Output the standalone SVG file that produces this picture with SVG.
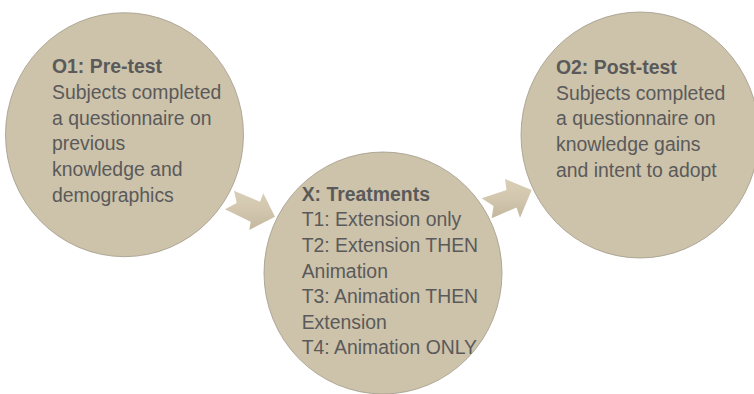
<svg xmlns="http://www.w3.org/2000/svg" width="754" height="394" viewBox="0 0 754 394">
<defs>
<linearGradient id="ag" x1="0" y1="0" x2="0" y2="1">
<stop offset="0" stop-color="#D9CEB7"/>
<stop offset="0.5" stop-color="#D2C6AE"/>
<stop offset="1" stop-color="#C3B79E"/>
</linearGradient>
<style>
.c{fill:#CDC2AA;stroke:#A19A8A;stroke-width:0.8}
.a{fill:url(#ag)}
text{font-family:"Liberation Sans",Arial,sans-serif;font-size:19.4px;fill:#5A5A5A}
.b{font-weight:bold}
</style>
</defs>
<rect width="754" height="394" fill="#FFFFFF"/>
<g id="connectors">
<polygon class="a" points="234,190.7 260,201.7 263.3,193.3 275,216.7 249.3,230 250.7,221.7 225,209.3 236.7,203"/>
<polygon class="a" points="481.7,198.3 506.5,190 505,179 531.7,190 520,217.7 516.5,207.5 491.7,218.3 493.5,206"/>
</g>
<g id="node-o1">
<ellipse class="c" cx="124.5" cy="134.7" rx="119" ry="122"/>
<text x="52" y="73.3" class="b">O1: Pre-test</text>
<text x="52" y="99">Subjects completed</text>
<text x="52" y="124.7">a questionnaire on</text>
<text x="52" y="150.3">previous</text>
<text x="52" y="176">knowledge and</text>
<text x="52" y="201.7">demographics</text>
</g>
<g id="node-x">
<ellipse class="c" cx="383" cy="273" rx="119" ry="121"/>
<text x="301.7" y="200.7" class="b">X: Treatments</text>
<text x="301.7" y="226.3">T1: Extension only</text>
<text x="301.7" y="251.9">T2: Extension THEN</text>
<text x="301.7" y="277.5">Animation</text>
<text x="301.7" y="303.1">T3: Animation THEN</text>
<text x="301.7" y="328.7">Extension</text>
<text x="301.7" y="354.3">T4: Animation ONLY</text>
</g>
<g id="node-o2">
<ellipse class="c" cx="640" cy="135" rx="119" ry="123"/>
<text x="556" y="74" class="b">O2: Post-test</text>
<text x="556" y="99.7">Subjects completed</text>
<text x="556" y="125.4">a questionnaire on</text>
<text x="556" y="151.1">knowledge gains</text>
<text x="556" y="176.8">and intent to adopt</text>
</g>
</svg>
